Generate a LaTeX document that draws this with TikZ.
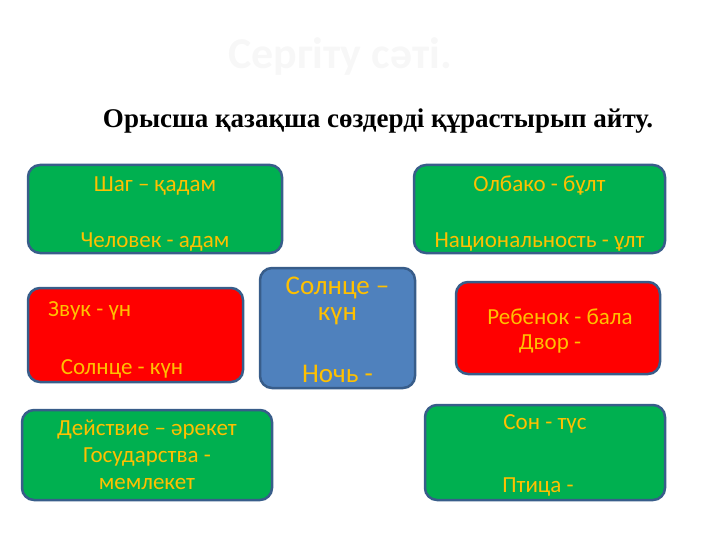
\documentclass[tikz,border=0pt]{standalone}
\usepackage{fontspec}
\setmainfont{Carlito}
\newfontfamily\titlefont{Liberation Serif}
\usetikzlibrary{positioning}
\definecolor{boxgreen}{HTML}{00B050}
\definecolor{boxred}{HTML}{FF0000}
\definecolor{boxblue}{HTML}{4F81BD}
\definecolor{boxedge}{HTML}{385D8A}
\definecolor{wordgold}{HTML}{FFC000}
\tikzset{
  card/.style={draw=boxedge, line width=2.5pt, rounded corners=12pt, inner sep=0pt},
  word/.style={text=wordgold, font=\fontsize{23}{26}\selectfont, inner sep=0pt, align=center}
}
\begin{document}
\begin{tikzpicture}[x=1pt,y=-1pt]
  \useasboundingbox (0,0) rectangle (720,540);
  \node[text=black!3, font=\bfseries\fontsize{44}{46}\selectfont] (faint) at (340,57) {Сергіту сәті.};
  \node[font=\titlefont\bfseries\fontsize{27}{29}\selectfont] (head) at (378,121) {Орысша қазақша сөздерді құрастырып айту.};

  % cards
  \node[card, fill=boxgreen, minimum width=254pt, minimum height=88pt] (shag) at (155,209) {};
  \node[card, fill=boxgreen, minimum width=251pt, minimum height=88pt] (olbako) at (539.5,209) {};
  \node[card, fill=boxblue, minimum width=155pt, minimum height=120pt] (solnce) at (337.5,328) {};
  \node[card, fill=boxred, minimum width=215pt, minimum height=94pt] (zvuk) at (135.5,335) {};
  \node[card, fill=boxred, minimum width=204pt, minimum height=92pt] (rebenok) at (558,328) {};
  \node[card, fill=boxgreen, minimum width=250pt, minimum height=90pt] (deistvie) at (147,455) {};
  \node[card, fill=boxgreen, minimum width=240pt, minimum height=95pt] (son) at (545,452.5) {};

  % words
  \node[word] at (155,186) {Шаг – қадам};
  \node[word] at (155,242) {Человек - адам};
  \node[word] at (539.5,186) {Олбако -  бұлт};
  \node[word] at (539.5,242) {Национальность - ұлт};
  \node[word, font=\fontsize{27}{29}\selectfont] at (337.5,288) {Солнце –};
  \node[word, font=\fontsize{27}{29}\selectfont] at (337.5,316) {күн};
  \node[word, font=\fontsize{27}{29}\selectfont] at (337.5,374) {Ночь  -};
  \node[word, anchor=west] at (48,311) {Звук  - үн};
  \node[word] at (122,369) {Солнце -  күн};
  \node[word] at (560,317) {Ребенок -  бала};
  \node[word] at (550,344) {Двор -};
  \node[word, align=center, font=\fontsize{23}{27}\selectfont] at (147,455) {Действие – әрекет\\Государства -\\мемлекет};
  \node[word] at (545,424) {Сон -  түс};
  \node[word] at (538,487) {Птица -};
\end{tikzpicture}
\end{document}
